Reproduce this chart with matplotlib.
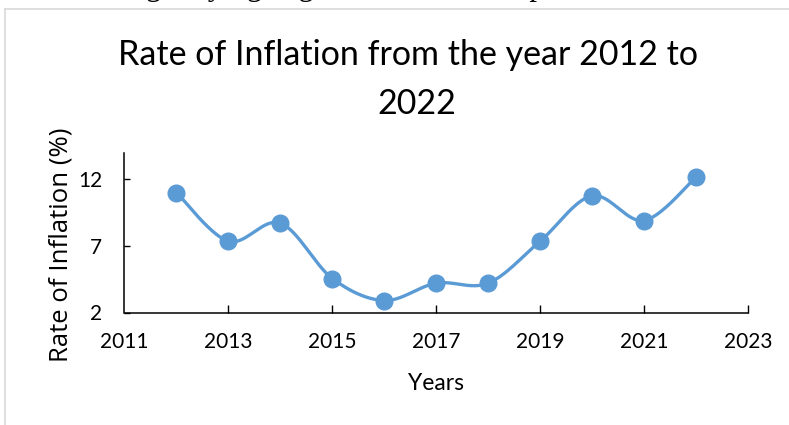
import numpy as np
import matplotlib
matplotlib.use('Agg')
import matplotlib.pyplot as plt
from matplotlib.lines import Line2D

# data
years = [2012, 2013, 2014, 2015, 2016, 2017, 2018, 2019, 2020, 2021, 2022]
inflation = [11.0, 7.35, 8.7, 4.55, 2.9, 4.2, 4.2, 7.35, 10.75, 8.9, 12.15]
xticks = [2011, 2013, 2015, 2017, 2019, 2021, 2023]
yticks = [2, 7, 12]

title_l1 = 'Rate of Inflation from the year 2012 to'
title_l2 = '2022'
above_text = 'us, indicating varying degrees of economic pressure'

blue = '#5B9BD5'
W, H = 789, 425


def smooth(x, y, n=40):
    # excel-like smoothed line: cubic bezier with catmull-rom control points
    x = np.asarray(x, float)
    y = np.asarray(y, float)
    px = np.concatenate(([x[0]], x, [x[-1]]))
    py = np.concatenate(([y[0]], y, [y[-1]]))
    t = np.linspace(0, 1, n)
    xs, ys = [], []
    for i in range(1, len(px) - 2):
        p0 = np.array([px[i], py[i]])
        p3 = np.array([px[i + 1], py[i + 1]])
        c1 = p0 + (p3 - np.array([px[i - 1], py[i - 1]])) / 6.0
        c2 = p3 - (np.array([px[i + 2], py[i + 2]]) - p0) / 6.0
        b = ((1 - t) ** 3)[:, None] * p0 + (3 * (1 - t) ** 2 * t)[:, None] * c1 \
            + (3 * (1 - t) * t ** 2)[:, None] * c2 + (t ** 3)[:, None] * p3
        xs.append(b[:, 0])
        ys.append(b[:, 1])
    return np.concatenate(xs), np.concatenate(ys)


fig = plt.figure(figsize=(W / 100, H / 100), dpi=100)

# cropped line of document text above the chart box (only descenders show)
fig.text(-3 / W, 1 + 5 / H, above_text, family='Liberation Serif', fontsize=22,
         va='baseline', ha='left', color='black')

# chart box border (only top and left visible)
fig.add_artist(Line2D([4.5 / W, 4.5 / W], [0, 1 - 8.5 / H], color='#d9d9d9', lw=1.2))
fig.add_artist(Line2D([4.5 / W, 1], [1 - 8.5 / H, 1 - 8.5 / H], color='#d9d9d9', lw=1.2))

ax = fig.add_axes([124.5 / W, 1 - 312.5 / H, (748 - 124.5) / W, (312.5 - 152.5) / H])

sx, sy = smooth(years, inflation)
ax.plot(sx, sy, color=blue, lw=2.4, solid_capstyle='round', zorder=3)
ax.plot(years, inflation, 'o', color=blue, ms=12, zorder=4)

ax.set_xlim(2011, 2023)
ax.set_ylim(2, 14)
ax.set_xticks(xticks)
ax.set_yticks(yticks)
ax.set_xticklabels([str(v) for v in xticks], family='Lato', fontsize=15)
ax.set_yticklabels([str(v) for v in yticks], family='Lato', fontsize=15)
ax.tick_params(axis='x', direction='in', length=5.5, width=1, pad=14, color='black')
ax.tick_params(axis='y', direction='in', length=4, width=1, pad=16, color='black')
ax.xaxis.get_major_ticks()[0].tick1line.set_visible(False)

for s in ['top', 'right']:
    ax.spines[s].set_visible(False)
for s in ['left', 'bottom']:
    ax.spines[s].set_linewidth(1.1)
    ax.spines[s].set_color('black')
ax.patch.set_alpha(0)

fig.text(408 / W, 1 - 65 / H, title_l1, family='Lato', fontsize=24.5, ha='center', va='baseline')
fig.text(417 / W, 1 - 114 / H, title_l2, family='Lato', fontsize=24.5, ha='center', va='baseline')

fig.text(61 / W, 1 - 245 / H, 'Rate of Inflation (%)', family='Open Sans', fontsize=18.5,
         rotation=90, ha='center', va='center')
fig.text(436 / W, 1 - 383 / H, 'Years', family='Lato', fontsize=16.5, ha='center', va='center')

fig.savefig('out.png', dpi=100)
